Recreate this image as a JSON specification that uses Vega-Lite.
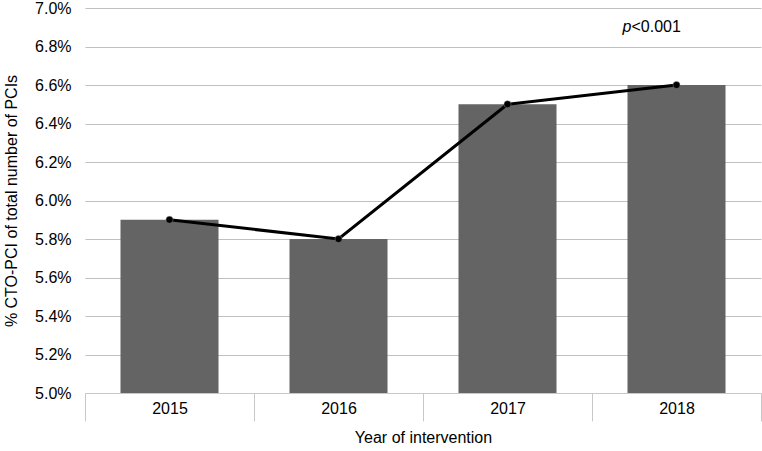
{
  "$schema": "https://vega.github.io/schema/vega-lite/v6.json",
  "autosize": "none",
  "width": 676,
  "height": 385,
  "padding": {"left": 85, "top": 8, "right": 1, "bottom": 58},
  "background": "white",
  "config": {
    "view": {"stroke": null},
    "font": "Liberation Sans"
  },
  "data": {
    "values": [
      {"year": "2015", "pct": 0.059},
      {"year": "2016", "pct": 0.058},
      {"year": "2017", "pct": 0.065},
      {"year": "2018", "pct": 0.066}
    ]
  },
  "encoding": {
    "x": {
      "field": "year",
      "type": "nominal",
      "scale": {"paddingInner": 0, "paddingOuter": 0},
      "axis": {
        "title": "Year of intervention",
        "labelAngle": 0,
        "labelFontSize": 16,
        "labelColor": "#000000",
        "labelPadding": -21,
        "titleFontSize": 16,
        "titleFontWeight": "normal",
        "titleColor": "#000000",
        "titlePadding": 8,
        "tickBand": "extent",
        "tickSize": 28,
        "tickColor": "#c8c8c8",
        "tickWidth": 1,
        "domainColor": "#c8c8c8",
        "domainWidth": 1,
        "grid": false
      }
    },
    "y": {
      "field": "pct",
      "type": "quantitative",
      "scale": {"domain": [0.05, 0.07], "zero": false, "nice": false},
      "axis": {
        "title": "% CTO-PCI of total number of PCIs",
        "format": ".1%",
        "values": [0.05, 0.052, 0.054, 0.056, 0.058, 0.06, 0.062, 0.064, 0.066, 0.068, 0.07],
        "labelOverlap": false,
        "labelFontSize": 16,
        "labelColor": "#000000",
        "labelPadding": 14,
        "titleFontSize": 16,
        "titleFontWeight": "normal",
        "titleColor": "#000000",
        "titlePadding": 15,
        "domain": false,
        "ticks": false,
        "grid": true,
        "gridColor": "#c0c0c0",
        "gridWidth": 1
      }
    }
  },
  "layer": [
    {
      "mark": {"type": "bar", "color": "#646464", "width": {"band": 0.58}},
      "encoding": {
        "y2": {"datum": 0.05}
      }
    },
    {
      "mark": {"type": "line", "color": "#000000", "strokeWidth": 3}
    },
    {
      "mark": {"type": "point", "filled": true, "color": "#000000", "size": 50, "opacity": 1, "stroke": "#888888", "strokeWidth": 0.5}
    },
    {
      "data": {"values": [{"year": "2015", "side": "left"}, {"year": "2018", "side": "right"}]},
      "transform": [{"filter": "datum.side === 'left'"}],
      "mark": {"type": "rule", "color": "#c8c8c8", "strokeWidth": 1},
      "encoding": {
        "x": {"field": "year", "type": "nominal", "bandPosition": 0},
        "y": {"datum": 0.05},
        "y2": {"datum": 0.04699}
      }
    },
    {
      "data": {"values": [{"year": "2015", "side": "left"}, {"year": "2018", "side": "right"}]},
      "transform": [{"filter": "datum.side === 'right'"}],
      "mark": {"type": "rule", "color": "#c8c8c8", "strokeWidth": 1},
      "encoding": {
        "x": {"field": "year", "type": "nominal", "bandPosition": 1},
        "y": {"datum": 0.05},
        "y2": {"datum": 0.04699}
      }
    },
    {
      "data": {"values": [{"year": "2018", "label": "p", "level": 0.069}]},
      "mark": {"type": "text", "fontStyle": "italic", "fontSize": 16, "align": "right", "baseline": "middle", "dx": -45, "color": "#000000"},
      "encoding": {
        "x": {"field": "year", "type": "nominal"},
        "y": {"field": "level", "type": "quantitative"},
        "text": {"field": "label"}
      }
    },
    {
      "data": {"values": [{"year": "2018", "label": "<0.001", "level": 0.069}]},
      "mark": {"type": "text", "fontSize": 16, "align": "left", "baseline": "middle", "dx": -45, "color": "#000000"},
      "encoding": {
        "x": {"field": "year", "type": "nominal"},
        "y": {"field": "level", "type": "quantitative"},
        "text": {"field": "label"}
      }
    }
  ]
}
